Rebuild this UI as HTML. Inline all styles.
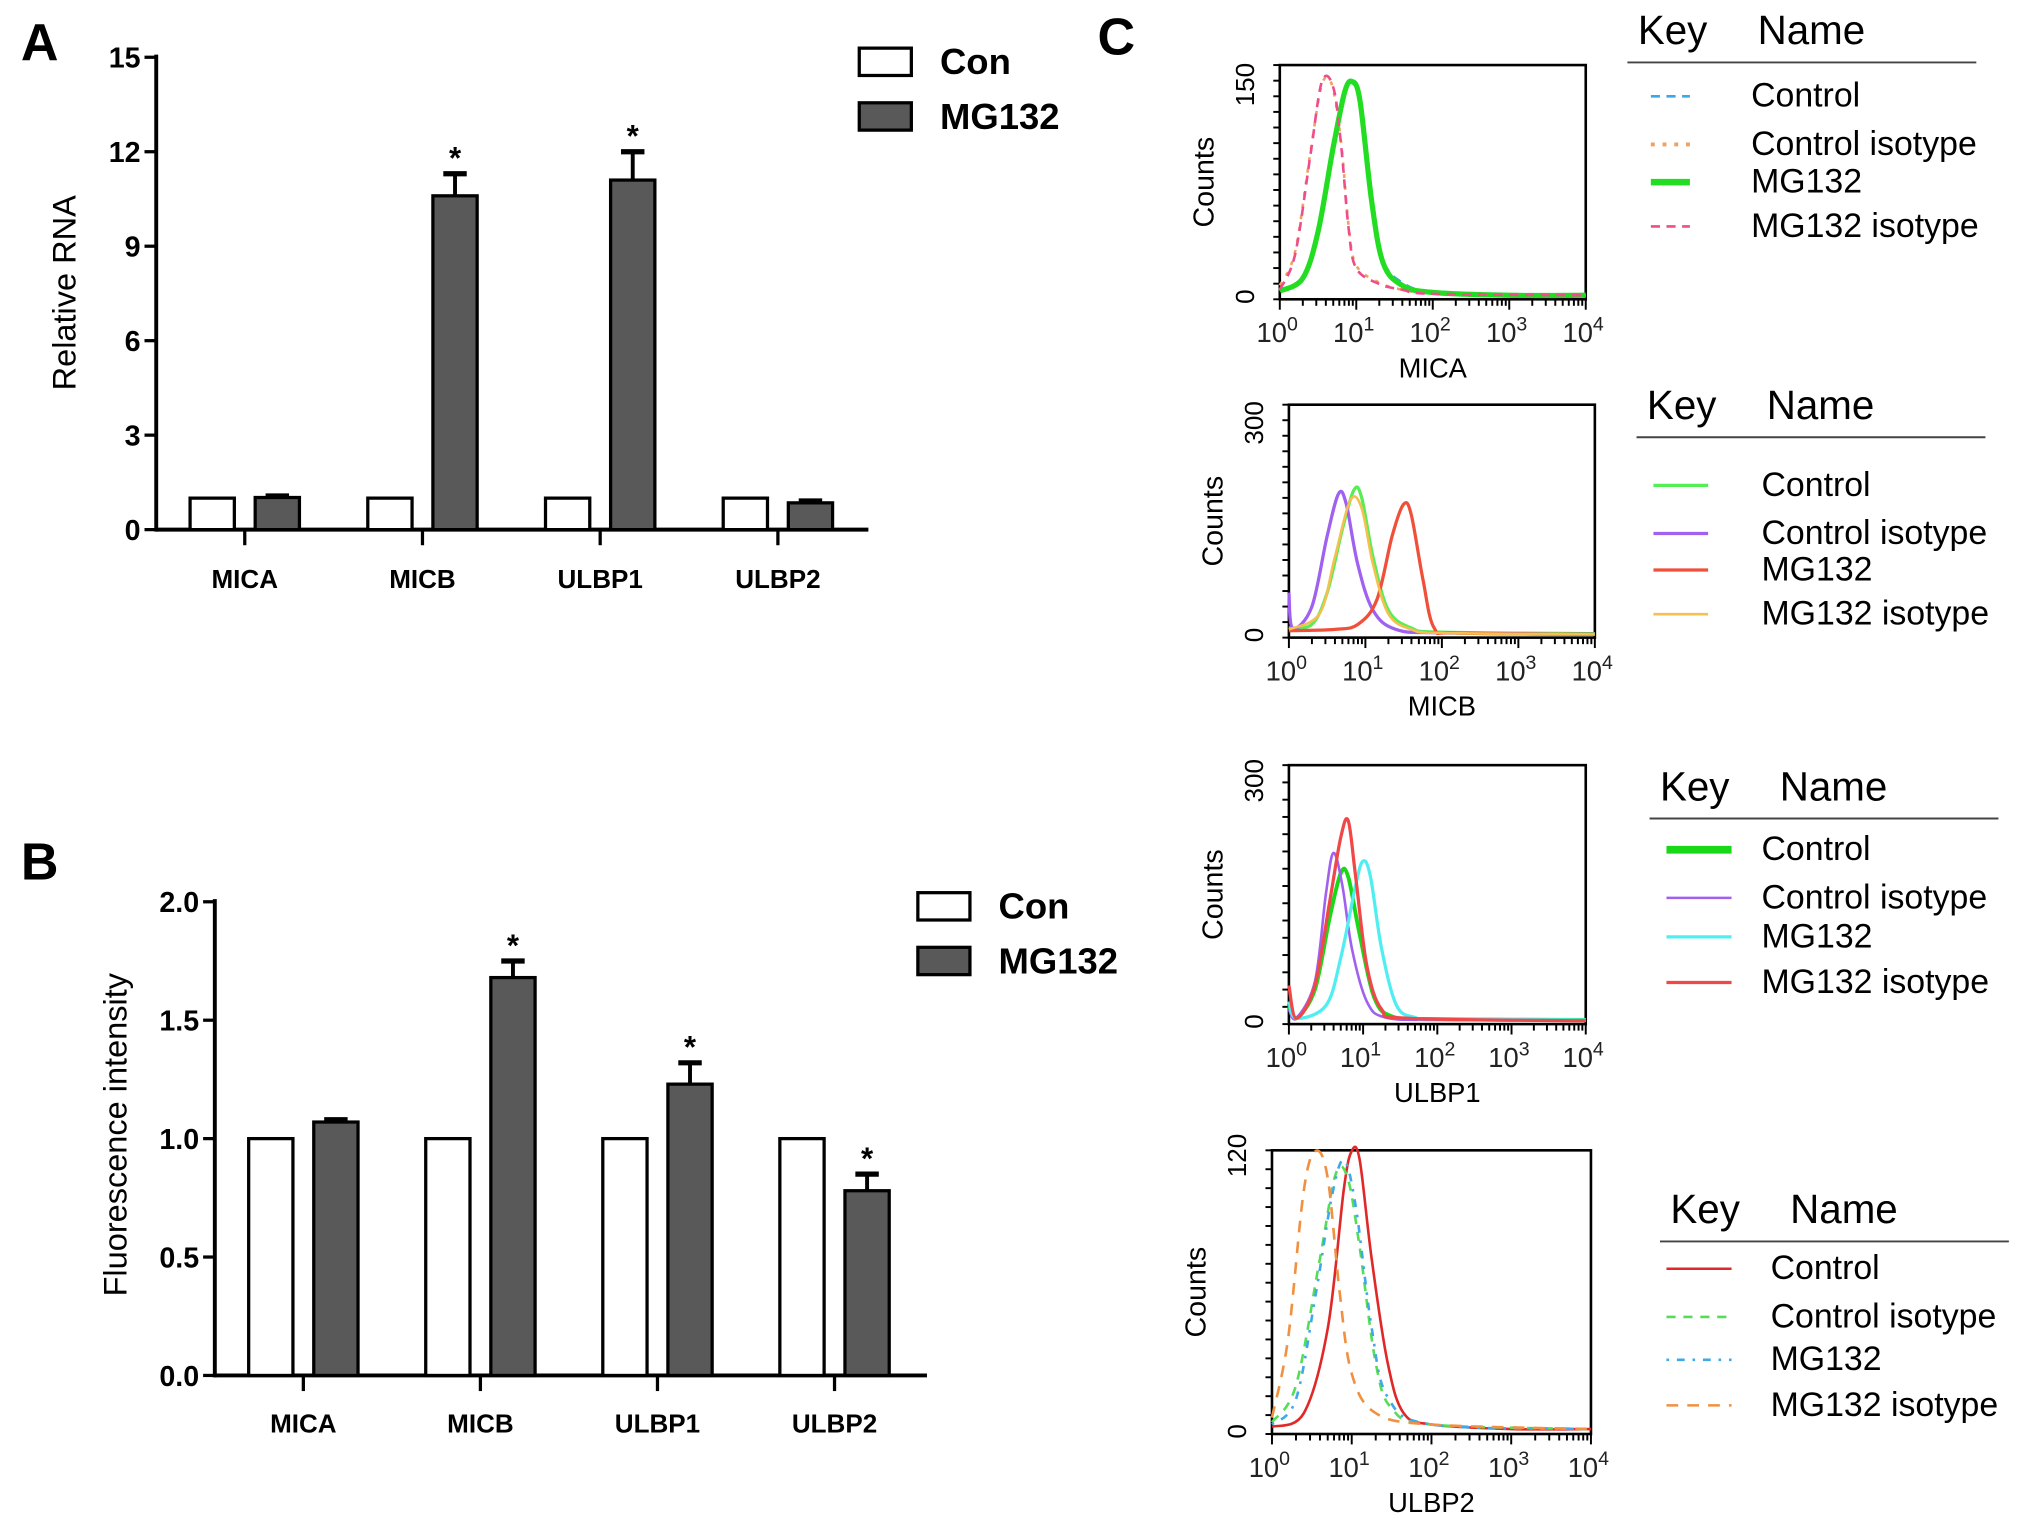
<!DOCTYPE html>
<html><head><meta charset="utf-8">
<style>
html,body{margin:0;padding:0;background:#fff;}
svg{display:block;}
text{font-family:"Liberation Sans",Arial,sans-serif;}
</style></head>
<body>
<svg id="fig" width="2031" height="1529" viewBox="0 0 1560 1175" preserveAspectRatio="none" xmlns="http://www.w3.org/2000/svg">
<rect width="1560" height="1175" fill="#fff"/>
<text x="16" y="46" font-size="40" font-weight="bold">A</text>
<text x="16" y="676" font-size="40" font-weight="bold">B</text>
<text x="843" y="42" font-size="40" font-weight="bold">C</text>
<g id="gA"></g>
<g id="gB"></g>
<g id="gC"></g>
</svg>
<script>
// ---- Panel A data ----
const catsA = ["MICA","MICB","ULBP1","ULBP2"];
const conA = [1,1,1,1];
const mgA = [1.02,10.6,11.1,0.85];
const mgErrA = [0.05,0.7,0.9,0.06];
const sigA = [false,true,true,false];
const ticksA = [0,3,6,9,12,15];
// ---- Panel B data ----
const catsB = ["MICA","MICB","ULBP1","ULBP2"];
const conB = [1,1,1,1];
const mgB = [1.07,1.68,1.23,0.78];
const mgErrB = [0.01,0.07,0.09,0.07];
const sigB = [false,true,true,true];
const ticksB = [0.0,0.5,1.0,1.5,2.0];
const tickLabelsB = ["0.0","0.5","1.0","1.5","2.0"];
// ---- Panel C histogram data: [log10 intensity, count] ----
const micaControl = [[0,4],[0.3,14],[0.5,48],[0.7,108],[0.85,146],[0.95,153],[1.05,140],[1.2,70],[1.35,26],[1.6,10],[2,3],[3,1],[4,1]];
const micaControlIso = [[0,8],[0.2,32],[0.4,102],[0.55,150],[0.68,150],[0.8,110],[0.9,50],[1.0,22],[1.3,10],[1.6,5],[2,3],[4,1]];
const micaMG = [[0,4],[0.3,13],[0.5,46],[0.7,106],[0.85,145],[0.95,152],[1.05,138],[1.2,68],[1.35,24],[1.6,8],[2,3],[3,1],[4,1]];
const micaMGIso = [[0,5],[0.2,30],[0.4,100],[0.55,152],[0.7,148],[0.8,108],[0.9,48],[1.0,20],[1.3,9],[1.6,5],[2,2],[4,1]];
const micbControl = [[0,10],[0.3,15],[0.5,60],[0.7,150],[0.85,205],[0.95,195],[1.1,110],[1.3,35],[1.6,10],[2,4],[4,2]];
const micbControlIso = [[0,60],[0.05,10],[0.3,40],[0.5,140],[0.65,200],[0.75,185],[0.9,100],[1.1,35],[1.4,8],[2,3],[4,1]];
const micbMG = [[0,6],[0.6,8],[0.9,15],[1.15,50],[1.35,140],[1.5,185],[1.6,170],[1.75,80],[1.9,10],[2.2,3],[4,1]];
const micbMGIso = [[0,8],[0.4,30],[0.6,110],[0.8,190],[0.95,180],[1.1,100],[1.3,30],[1.6,8],[2,3],[4,1]];
const ulbp1Control = [[0,20],[0.1,4],[0.35,40],[0.55,130],[0.7,185],[0.8,180],[0.95,110],[1.15,30],[1.4,6],[2,3],[4,2]];
const ulbp1ControlIso = [[0,15],[0.1,4],[0.35,50],[0.5,160],[0.6,210],[0.72,170],[0.85,90],[1.05,25],[1.3,5],[2,2],[4,1]];
const ulbp1MG = [[0,25],[0.1,4],[0.5,20],[0.7,80],[0.9,170],[1.0,200],[1.1,180],[1.25,90],[1.45,20],[1.7,5],[2,3],[4,2]];
const ulbp1MGIso = [[0,45],[0.1,4],[0.35,45],[0.55,150],[0.7,230],[0.8,250],[0.9,180],[1.05,70],[1.25,15],[1.6,4],[4,1]];
const ulbp2Control = [[0,2],[0.4,8],[0.7,45],[0.9,105],[1.0,122],[1.1,118],[1.25,75],[1.45,30],[1.65,8],[2,3],[3,1],[4,1]];
const ulbp2ControlIso = [[0,4],[0.3,20],[0.6,75],[0.8,112],[0.95,110],[1.1,80],[1.3,30],[1.5,10],[2,3],[4,1]];
const ulbp2MG = [[0,3],[0.3,14],[0.55,60],[0.75,102],[0.9,118],[1.05,98],[1.25,45],[1.45,15],[2,3],[4,1]];
const ulbp2MGIso = [[0,6],[0.2,40],[0.4,105],[0.55,122],[0.7,110],[0.85,60],[1.0,25],[1.3,8],[2,3],[4,1]];

const NS="http://www.w3.org/2000/svg";
function el(tag,attrs,parent,txt){const e=document.createElementNS(NS,tag);for(const k in attrs)e.setAttribute(k,attrs[k]);if(txt!==undefined)e.textContent=txt;parent.appendChild(e);return e;}

function barChart(g,o){
  const y=v=>o.y0-(v/o.max)*(o.y0-o.yTop);
  let ax=el('line',{x1:o.x0,y1:o.yTop-2,x2:o.x0,y2:o.y0+1.5,stroke:'#000','stroke-width':3},g);
  
  
  let bx=el('line',{x1:o.x0,y1:o.y0,x2:o.xEnd,y2:o.y0,stroke:'#000','stroke-width':3},g);
  
  
  o.ticks.forEach((t,i)=>{
    el('line',{x1:o.x0-9,y1:y(t),x2:o.x0,y2:y(t),stroke:'#000','stroke-width':2.5},g);
    let tl=el('text',{x:o.x0-12,y:y(t)+8,'font-size':22,'text-anchor':'end','font-weight':'bold'},g,o.tickLabels?o.tickLabels[i]:String(t));
    
    
  });
  const yt=el('text',{x:0,y:0,'font-size':25,'text-anchor':'middle',transform:`translate(${o.titleX},${o.titleY}) rotate(-90)`},g,o.title);
  
  
  o.cats.forEach((c,i)=>{
    const cx=o.firstTick+i*o.step;
    el('line',{x1:cx,y1:o.y0,x2:cx,y2:o.y0+12,stroke:'#000','stroke-width':2.5},g);
    const lab=el('text',{x:cx,y:o.labY,'font-size':20,'font-weight':'bold','text-anchor':'middle'},g,c);
    
    
    const w=34;
    const b1=el('rect',{x:cx-25-w/2,y:y(o.con[i]),width:w,height:o.y0-y(o.con[i]),fill:'#fff',stroke:'#000','stroke-width':2.5},g);
    
    
    const top=y(o.mg[i]+o.err[i]);
    el('line',{x1:cx+25,y1:y(o.mg[i]),x2:cx+25,y2:top,stroke:'#000','stroke-width':3},g);
    el('line',{x1:cx+25-9,y1:top,x2:cx+25+9,y2:top,stroke:'#000','stroke-width':4},g);
    const b2=el('rect',{x:cx+25-w/2,y:y(o.mg[i]),width:w,height:o.y0-y(o.mg[i]),fill:'#595959',stroke:'#000','stroke-width':2.5},g);
    
    
    if(o.sig[i]){const s=el('text',{x:cx+25,y:top-4,'font-size':24,'font-weight':'bold','text-anchor':'middle'},g,'*');
      
      }
  });
  const lg=el('g',{},g);
  
  
  const r1=el('rect',{x:o.lx,y:o.ly,width:40,height:21,fill:'#fff',stroke:'#000','stroke-width':2.5},lg);
  
  
  const t1=el('text',{x:o.lx+62,y:o.ly+20,'font-size':28,'font-weight':'bold'},lg,'Con');
  
  
  const r2=el('rect',{x:o.lx,y:o.ly+42,width:40,height:21,fill:'#595959',stroke:'#000','stroke-width':2.5},lg);
  
  
  const t2=el('text',{x:o.lx+62,y:o.ly+62,'font-size':28,'font-weight':'bold'},lg,'MG132');
  
  
}
barChart(document.getElementById('gA'),{x0:120,xEnd:667,yTop:44,y0:407,max:15,ticks:ticksA,cats:catsA,con:conA,mg:mgA,err:mgErrA,sig:sigA,firstTick:188,step:136.5,labY:452,title:'Relative RNA',titleX:58,titleY:225,lx:660,ly:37});
barChart(document.getElementById('gB'),{x0:165,xEnd:712,yTop:693,y0:1057,max:2,ticks:ticksB,tickLabels:tickLabelsB,cats:catsB,con:conB,mg:mgB,err:mgErrB,sig:sigB,firstTick:233,step:136,labY:1101,title:'Fluorescence intensity',titleX:97,titleY:872,lx:705,ly:686});

function smooth(pts){
  let d='M'+pts[0][0].toFixed(1)+','+pts[0][1].toFixed(1);
  for(let i=0;i<pts.length-1;i++){
    const p0=pts[Math.max(0,i-1)],p1=pts[i],p2=pts[i+1],p3=pts[Math.min(pts.length-1,i+2)];
    const c1=[p1[0]+(p2[0]-p0[0])/6,p1[1]+(p2[1]-p0[1])/6];
    const c2=[p2[0]-(p3[0]-p1[0])/6,p2[1]-(p3[1]-p1[1])/6];
    d+=' C'+c1.map(v=>v.toFixed(1)).join(',')+' '+c2.map(v=>v.toFixed(1)).join(',')+' '+p2[0].toFixed(1)+','+p2[1].toFixed(1);
  }
  return d;
}
function flowPlot(g,o){
  const xs=v=>o.x0+(v/4)*(o.x1-o.x0);
  const ys=v=>o.yZero-(v/o.maxTick)*(o.yZero-o.yTick);
  const fr=el('rect',{x:o.x0,y:o.yTop,width:o.x1-o.x0,height:o.yBot-o.yTop,fill:'none',stroke:'#000','stroke-width':2},g);
  
  
  for(let d=0;d<4;d++){for(let k=1;k<10;k++){const xx=xs(d+Math.log10(k));el('line',{x1:xx,y1:o.yBot,x2:xx,y2:o.yBot+(k==1?8:5),stroke:'#000','stroke-width':1.5},g);}}
  el('line',{x1:o.x1,y1:o.yBot,x2:o.x1,y2:o.yBot+8,stroke:'#000','stroke-width':1.5},g);
  for(let i=0;i<=15;i++){const yy=o.yBot-i*(o.yBot-o.yTop)/15;el('line',{x1:o.x0-5,y1:yy,x2:o.x0,y2:yy,stroke:'#000','stroke-width':1.5},g);}
  const lbl0=el('text',{x:0,y:0,'font-size':20,'text-anchor':'middle',transform:`translate(${o.x0-20},${o.yZero}) rotate(-90)`},g,'0');
  
  
  const lblM=el('text',{x:0,y:0,'font-size':20,'text-anchor':'middle',transform:`translate(${o.x0-20},${o.yTick}) rotate(-90)`},g,String(o.maxTick));
  
  
  const cl=el('text',{x:0,y:0,'font-size':22,'text-anchor':'middle',transform:`translate(${o.x0-51},${(o.yTop+o.yBot)/2}) rotate(-90)`},g,'Counts');
  
  
  for(let d=0;d<=4;d++){
    const t=el('text',{x:xs(d)-2,y:o.yBot+33,'font-size':21,'text-anchor':'middle',fill:'#222'},g);
    
    
    el('tspan',{},t,'10');el('tspan',{dy:-9,'font-size':15},t,String(d));
  }
  const xn=el('text',{x:(o.x0+o.x1)/2,y:o.yBot+60,'font-size':21,'text-anchor':'middle'},g,o.name);
  
  
  o.series.forEach(s=>{
    const d=smooth(s.data.map(p=>[xs(p[0]),ys(p[1])]));
    const p=el('path',{d:d,fill:'none',stroke:s.color,'stroke-width':s.w,'stroke-dasharray':s.dash||'none','stroke-linejoin':'round'},g);
    
    
  });
  const lg=el('g',{},g);
  
  
  el('text',{x:o.lx+8,y:o.ly,'font-size':31},lg,'Key');
  el('text',{x:o.lx+100,y:o.ly,'font-size':31},lg,'Name');
  el('line',{x1:o.lx,y1:o.ly+14,x2:o.lx+268,y2:o.ly+14,stroke:'#444','stroke-width':1.5},lg);
  o.series.forEach((s,i)=>{
    const yy=o.ey[i];
    el('line',{x1:o.sx0,y1:yy-8,x2:o.sx1,y2:yy-8,stroke:s.color,'stroke-width':s.lw||s.w,'stroke-dasharray':s.dash||'none'},lg);
    const t=el('text',{x:o.tx,y:yy,'font-size':26},lg,s.label);
    
    
  });
}
const gC=document.getElementById('gC');
flowPlot(gC,{name:'MICA',x0:983,x1:1218,yTop:50,yBot:230,yZero:228,yTick:65,maxTick:150,lx:1250,ly:34,ey:[82,119,148,182],sx0:1268,sx1:1298,tx:1345,
  series:[{label:'Control',data:micaControl,color:'#3aa8e8',w:2,dash:'7 5'},{label:'Control isotype',data:micaControlIso,color:'#f0a060',w:2,dash:'3 6',lw:3},
          {label:'MG132',data:micaMG,color:'#22dd22',w:4,lw:5},{label:'MG132 isotype',data:micaMGIso,color:'#ee4d8a',w:2,dash:'7 5'}]});
flowPlot(gC,{name:'MICB',x0:990,x1:1225,yTop:311,yBot:490,yZero:488,yTick:325,maxTick:300,lx:1257,ly:322,ey:[381,418,446,480],sx0:1270,sx1:1312,tx:1353,
  series:[{label:'Control',data:micbControl,color:'#55ee55',w:2.5},{label:'Control isotype',data:micbControlIso,color:'#a060f0',w:2.5},
          {label:'MG132',data:micbMG,color:'#f0503a',w:2.5},{label:'MG132 isotype',data:micbMGIso,color:'#f5c050',w:2}]});
flowPlot(gC,{name:'ULBP1',x0:990,x1:1218,yTop:588,yBot:787,yZero:785,yTick:600,maxTick:300,lx:1267,ly:615,ey:[661,698,728,763],sx0:1280,sx1:1330,tx:1353,
  series:[{label:'Control',data:ulbp1Control,color:'#18d818',w:3,lw:6},{label:'Control isotype',data:ulbp1ControlIso,color:'#a060f0',w:2},
          {label:'MG132',data:ulbp1MG,color:'#50eef0',w:2.5},{label:'MG132 isotype',data:ulbp1MGIso,color:'#f04848',w:2.5}]});
flowPlot(gC,{name:'ULBP2',x0:977,x1:1222,yTop:884,yBot:1102,yZero:1100,yTick:888,maxTick:120,lx:1275,ly:940,ey:[983,1020,1053,1088],sx0:1280,sx1:1330,tx:1360,
  series:[{label:'Control',data:ulbp2Control,color:'#e02828',w:2},{label:'Control isotype',data:ulbp2ControlIso,color:'#55dd55',w:2,dash:'7 6'},
          {label:'MG132',data:ulbp2MG,color:'#40a8e8',w:2,dash:'2 6 6 6'},{label:'MG132 isotype',data:ulbp2MGIso,color:'#f09040',w:2,dash:'9 7'}]});
</script>
</body></html>
